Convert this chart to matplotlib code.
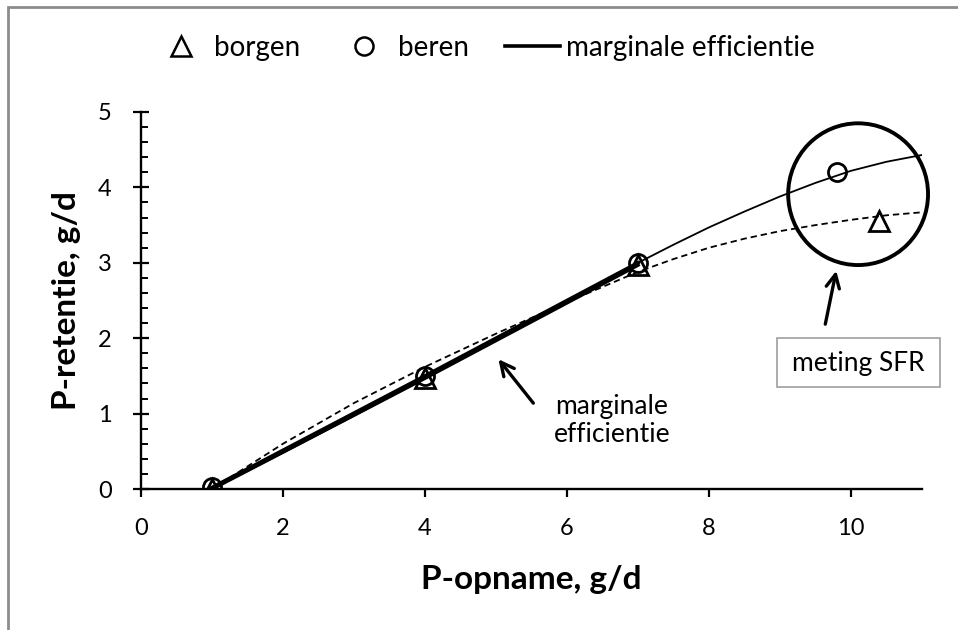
import matplotlib
matplotlib.use("Agg")
import matplotlib.pyplot as plt
from matplotlib.lines import Line2D
from matplotlib.patches import Ellipse, Rectangle

plt.rcParams['font.family'] = ['Lato', 'DejaVu Sans']

# measured points (P-opname vs P-retentie)
borgen_x = [1, 4, 7, 10.4]
borgen_y = [0.0, 1.47, 2.97, 3.56]
beren_x = [1, 4, 7, 9.8]
beren_y = [0.02, 1.5, 3.0, 4.2]

# fitted response curves
fit_x = [1, 2, 3, 4, 5, 6, 7, 7.5, 8, 8.5, 9, 9.5, 10, 10.5, 11]
fit_beren = [0.0, 0.48, 0.97, 1.47, 1.98, 2.5, 3.0, 3.24, 3.47, 3.68, 3.88, 4.06, 4.22, 4.34, 4.43]
fit_borgen = [0.0, 0.6, 1.14, 1.62, 2.06, 2.48, 2.88, 3.05, 3.2, 3.32, 3.42, 3.5, 3.57, 3.63, 3.67]

# marginal efficiency segments (first three trials)
marg_x = [1, 4, 7]
marg_borgen = [0.0, 1.47, 2.97]
marg_beren = [0.02, 1.5, 3.0]

fig = plt.figure(figsize=(9.58, 6.30), dpi=100)
ax = fig.add_axes([141/958, 1-489/630, 781/958, 377/630])

ax.plot(fit_x, fit_beren, color='black', lw=1.3)
ax.plot(fit_x, fit_borgen, color='black', lw=1.3, ls=(0, (3.5, 2.2)))
ax.plot(marg_x, marg_borgen, color='black', lw=2.6)
ax.plot(marg_x, marg_beren, color='black', lw=2.6)
ax.plot(borgen_x, borgen_y, ls='none', marker='^', ms=14, mfc='none', mec='black', mew=2)
ax.plot(beren_x, beren_y, ls='none', marker='o', ms=13, mfc='none', mec='black', mew=2)

# circle around the SFR measurements
ax.add_patch(Ellipse((10.1, 3.91), 1.97, 1.88, fill=False, ec='black', lw=2.8, clip_on=False))

ax.annotate('', xy=(5.01, 1.75), xytext=(5.55, 1.11),
            arrowprops=dict(arrowstyle='->', lw=2.4, color='black', mutation_scale=24))
ax.text(6.63, 0.915, 'marginale\nefficientie', ha='center', va='center', fontsize=19,
        linespacing=1.15)
ax.annotate('', xy=(9.80, 2.93), xytext=(9.63, 2.15),
            arrowprops=dict(arrowstyle='->', lw=2.4, color='black', mutation_scale=24))
ax.add_patch(Rectangle((8.96, 1.35), 2.29, 0.65, fill=False, ec='#a6a6a6', lw=1.3, clip_on=False))
ax.text(10.1, 1.67, 'meting SFR', ha='center', va='center', fontsize=19)

ax.set_xlim(0, 11)
ax.set_ylim(0, 5)
ax.set_xticks([0, 2, 4, 6, 8, 10])
ax.set_yticks([0, 1, 2, 3, 4, 5])
ax.set_yticks([i * 0.2 for i in range(26)], minor=True)
for s in ['top', 'right']:
    ax.spines[s].set_visible(False)
for s in ['left', 'bottom']:
    ax.spines[s].set_linewidth(1.7)
ax.tick_params(axis='y', which='major', direction='inout', length=12, width=1.6, labelsize=17, pad=15)
ax.tick_params(axis='y', which='minor', direction='in', length=5, width=1.4)
ax.tick_params(axis='x', which='major', direction='out', length=6, width=1.6, labelsize=17, pad=15)

ax.set_xlabel('P-opname, g/d', fontsize=24, fontweight='bold')
ax.set_ylabel('P-retentie, g/d', fontsize=24, fontweight='bold')
ax.xaxis.label.set_va('center')
ax.yaxis.label.set_va('center')
ax.xaxis.set_label_coords(0.5, -(580-489)/377)
ax.yaxis.set_label_coords(-(141-67)/781, 0.5)

handles = [
    Line2D([], [], ls='none', marker='^', ms=14, mfc='none', mec='black', mew=1.8),
    Line2D([], [], ls='none', marker='o', ms=13, mfc='none', mec='black', mew=1.8),
    Line2D([], [], color='black', lw=2.6),
]
fig.legend(handles, ['borgen', 'beren', 'marginale efficientie'], loc='center',
           bbox_to_anchor=(484/958, 1-48/630), ncol=3, frameon=False, fontsize=20,
           handlelength=2.0, handletextpad=0.2, columnspacing=1.3, borderpad=0)

fig.patches.append(Rectangle((8/958, -0.1), 1.5, (630-7)/630 + 0.1, transform=fig.transFigure,
                             fill=False, ec='#8c8c8c', lw=2))

fig.savefig('out.png', dpi=100)
